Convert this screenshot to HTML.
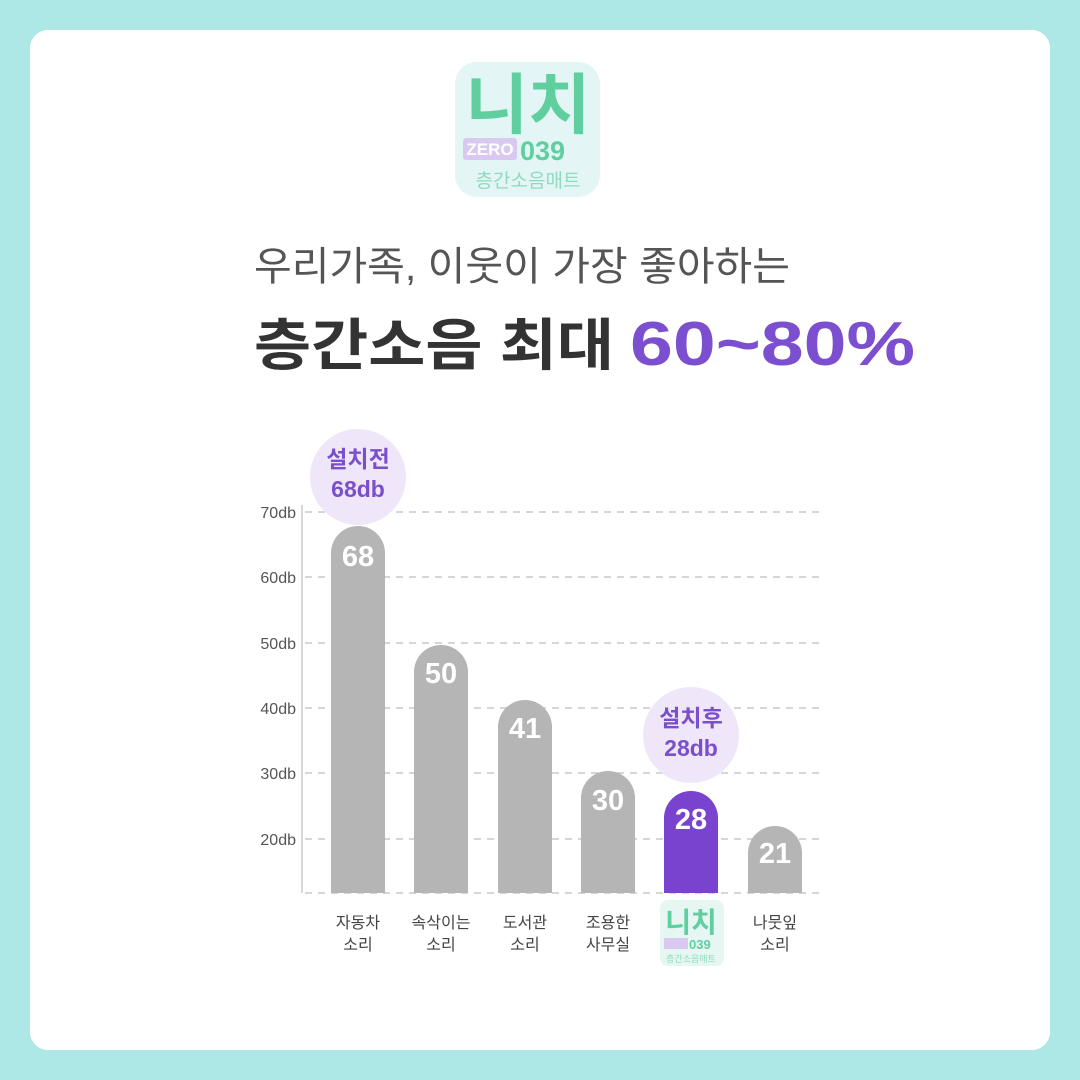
<!DOCTYPE html>
<html><head><meta charset="utf-8"><style>
body{margin:0;width:1080px;height:1080px;background:#ade8e6;font-family:"Liberation Sans","Noto Sans CJK KR",sans-serif;position:relative;overflow:hidden}
.card{position:absolute;left:30px;top:30px;width:1020px;height:1020px;background:#fff;border-radius:18px}
</style></head><body>
<div class="card"></div>
<svg width="1080" height="1080" style="position:absolute;left:0;top:0" font-family="Liberation Sans, Noto Sans CJK KR, sans-serif">
<!-- logo -->
<rect x="455" y="62" width="145" height="135" rx="22" fill="#e3f5f5"/>
<text x="528" y="128" text-anchor="middle" font-size="66" font-weight="bold" fill="#5fcf9f" textLength="125" lengthAdjust="spacingAndGlyphs">니치</text>
<rect x="463" y="138" width="54" height="22" rx="3" fill="#d9c8f0"/>
<text x="490" y="155" text-anchor="middle" font-size="17" font-weight="bold" fill="#fff">ZERO</text>
<text x="520" y="160" font-size="27" font-weight="bold" fill="#5fcf9f">039</text>
<text x="528" y="187" text-anchor="middle" font-size="19" fill="#8fdcbc">층간소음매트</text>
<!-- titles -->
<text x="254" y="280" font-size="40" fill="#555" textLength="536" lengthAdjust="spacingAndGlyphs">우리가족, 이웃이 가장 좋아하는</text>
<text x="254" y="365" font-size="56" font-weight="bold" fill="#333" textLength="360" lengthAdjust="spacingAndGlyphs">층간소음 최대</text>
<text x="630" y="365" font-size="62" font-weight="bold" fill="#7b4fd0" textLength="285" lengthAdjust="spacingAndGlyphs">60~80%</text>
<!-- grid -->
<g stroke="#c8c8c8" stroke-width="1.5" stroke-dasharray="7 6">
<line x1="305" y1="512" x2="822" y2="512"/><line x1="305" y1="577" x2="822" y2="577"/>
<line x1="305" y1="643" x2="822" y2="643"/><line x1="305" y1="708" x2="822" y2="708"/>
<line x1="305" y1="773" x2="822" y2="773"/><line x1="305" y1="839" x2="822" y2="839"/>
<line x1="305" y1="893" x2="822" y2="893"/>
</g>
<line x1="302" y1="505" x2="302" y2="893" stroke="#ccc" stroke-width="1.5"/>
<g font-size="16" fill="#555" text-anchor="end">
<text x="296" y="518">70db</text><text x="296" y="583">60db</text><text x="296" y="649">50db</text>
<text x="296" y="714">40db</text><text x="296" y="779">30db</text><text x="296" y="845">20db</text>
</g>
<!-- bars -->
<g fill="#b5b5b5">
<path d="M331 893V553a27 27 0 0 1 54 0V893Z"/>
<path d="M414 893V672a27 27 0 0 1 54 0V893Z"/>
<path d="M498 893V727a27 27 0 0 1 54 0V893Z"/>
<path d="M581 893V798a27 27 0 0 1 54 0V893Z"/>
<path d="M748 893V853a27 27 0 0 1 54 0V893Z"/>
</g>
<path d="M664 893V818a27 27 0 0 1 54 0V893Z" fill="#7a43cf"/>
<g font-size="29" font-weight="bold" fill="#fff" text-anchor="middle">
<text x="358" y="566">68</text><text x="441" y="683">50</text><text x="525" y="738">41</text>
<text x="608" y="810">30</text><text x="691" y="829">28</text><text x="775" y="863">21</text>
</g>
<!-- bubbles -->
<circle cx="358" cy="477" r="48" fill="#efe7f9"/>
<circle cx="691" cy="735" r="48" fill="#efe7f9"/>
<g font-size="23" font-weight="bold" fill="#7a4fcc" text-anchor="middle">
<text x="358" y="467">설치전</text><text x="358" y="497">68db</text>
<text x="691" y="726">설치후</text><text x="691" y="756">28db</text>
</g>
<!-- x labels -->
<g font-size="16" fill="#444" text-anchor="middle">
<text x="358" y="928">자동차</text><text x="358" y="950">소리</text>
<text x="441" y="928">속삭이는</text><text x="441" y="950">소리</text>
<text x="525" y="928">도서관</text><text x="525" y="950">소리</text>
<text x="608" y="928">조용한</text><text x="608" y="950">사무실</text>
<text x="775" y="928">나뭇잎</text><text x="775" y="950">소리</text>
</g>
<rect x="660" y="900" width="64" height="66" rx="8" fill="#e6f6f2"/>
<text x="691" y="932" text-anchor="middle" font-size="28" font-weight="bold" fill="#5fcf9f">니치</text>
<rect x="664" y="938" width="24" height="11" fill="#d9c8f0"/>
<text x="689" y="949" font-size="13" font-weight="bold" fill="#5fcf9f">039</text>
<text x="691" y="962" text-anchor="middle" font-size="9" fill="#8fdcbc">층간소음매트</text>
</svg>
</body></html>
